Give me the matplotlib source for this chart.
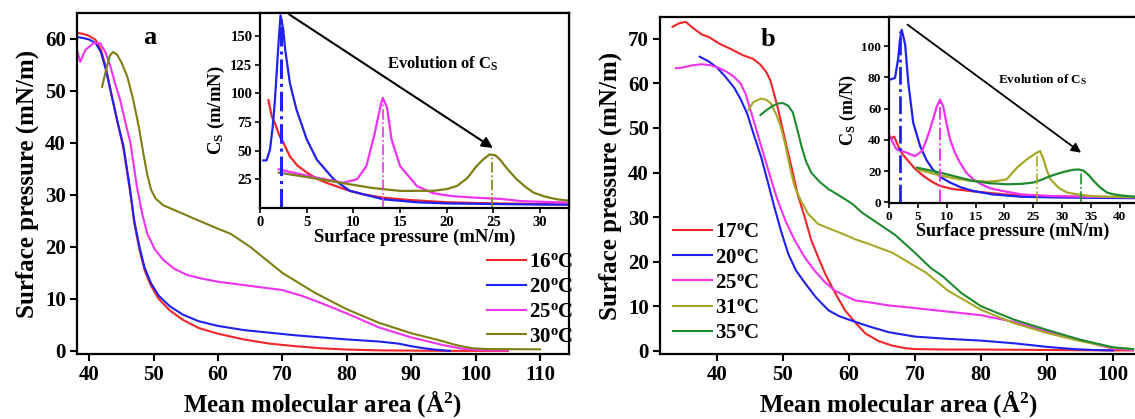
import matplotlib
matplotlib.use("Agg")
import matplotlib.pyplot as plt

plt.rcParams['font.family'] = ['Liberation Serif', 'DejaVu Serif']
plt.rcParams['font.weight'] = 'bold'
plt.rcParams['mathtext.fontset'] = 'custom'
plt.rcParams['mathtext.rm'] = 'Liberation Serif:bold'
plt.rcParams['mathtext.bf'] = 'Liberation Serif:bold'
plt.rcParams['mathtext.it'] = 'Liberation Serif:bold'
plt.rcParams['axes.linewidth'] = 1.6

# ---------------- Panel a: isotherms ----------------
a16_x = [38.0, 39.0, 40.0, 41.0, 41.8, 42.6, 43.5, 44.4, 45.3, 46.3, 47.0, 47.8, 48.6, 49.6, 50.8, 52.5, 54.5, 57.0, 60, 64, 68, 72, 76, 80, 85, 90, 95, 100, 105]
a16_y = [61.2, 61.0, 60.6, 59.8, 58.0, 54.5, 49.0, 44.0, 39.0, 31.0, 24.5, 19.5, 15.5, 12.5, 10.0, 7.8, 6.0, 4.4, 3.3, 2.2, 1.4, 0.9, 0.5, 0.25, 0.1, 0.05, 0, 0, 0]
a20_x = [38.0, 39.0, 40.0, 41.0, 41.8, 42.6, 43.5, 44.4, 45.3, 46.3, 47.0, 47.8, 48.6, 49.6, 50.8, 52.5, 54.5, 57.0, 60, 64, 68, 72, 76, 80, 85, 88, 90, 92, 94, 96]
a20_y = [60.4, 60.2, 59.9, 59.2, 57.5, 54.0, 49.0, 44.0, 39.5, 31.5, 25.0, 20.0, 16.0, 13.0, 10.6, 8.6, 7.0, 5.7, 4.8, 4.0, 3.5, 3.0, 2.6, 2.2, 1.8, 1.4, 0.9, 0.5, 0.2, 0.0]
a25_x = [38.1, 38.6, 39.4, 40.7, 41.7, 42.5, 43.3, 44.0, 44.8, 45.6, 46.4, 47.4, 48.2, 49.0, 50.2, 51.5, 53.2, 55.2, 57.5, 60, 65, 70, 73, 76, 80, 85, 90, 95, 98, 100, 103, 105]
a25_y = [57.9, 55.6, 57.9, 59.2, 59.2, 57.5, 54.7, 51.5, 48.3, 44.0, 40.0, 31.6, 26.5, 22.6, 19.5, 17.5, 15.8, 14.6, 13.9, 13.3, 12.5, 11.7, 10.6, 9.2, 7.2, 4.5, 2.6, 1.1, 0.4, 0.2, 0.1, 0.1]
a30_x = [42.0, 42.6, 43.2, 43.7, 44.3, 45.0, 45.9, 46.8, 47.7, 48.4, 49.0, 49.6, 50.3, 51.5, 53.4, 56.0, 60.0, 62.0, 65.0, 70.0, 75.0, 80.0, 85.0, 90.0, 94.5, 97.0, 99.5, 102.0, 110.0]
a30_y = [50.8, 54.0, 56.8, 57.5, 57.0, 55.5, 52.8, 48.5, 43.1, 38.0, 34.0, 31.0, 29.3, 28.0, 27.0, 25.6, 23.5, 22.5, 20.0, 15.0, 11.2, 8.0, 5.4, 3.4, 2.0, 1.1, 0.5, 0.35, 0.3]

# inset a: Cs vs surface pressure
ia16_x = [0.9, 1.25, 1.6, 2.1, 2.5, 3.2, 4.0, 5.0, 6.0, 7.1, 8.5, 9.6, 11.0, 13.2, 16.0, 20.0, 25.0, 30.0, 33.0]
ia16_y = [94, 80, 74, 62.6, 57, 45, 37, 31, 26, 22, 18, 15, 12, 9, 7, 5, 4, 3.5, 3]
ia20_x = [0.36, 0.7, 1.07, 1.35, 1.6, 1.8, 2.0, 2.2, 2.5, 2.7, 3.2, 3.9, 5.0, 6.1, 7.9, 9.6, 13.2, 16.8, 20, 25, 30, 33]
ia20_y = [41.5, 41.5, 51, 70, 94, 120, 146, 168, 155, 138, 109, 86, 60, 42, 25, 15, 7.6, 5, 4, 3.5, 3, 3]
ia25_x = [2.0, 4.0, 6.1, 8.9, 10.4, 11.4, 12.3, 12.9, 13.15, 13.6, 14.1, 15.0, 16.8, 18.5, 20.4, 23.0, 25.7, 28.0, 31.8, 33.0]
ia25_y = [33.7, 30, 26.4, 22, 25, 36.6, 65.5, 88.6, 96, 88, 59.7, 36.6, 19.2, 13, 10.5, 9, 8, 6, 5, 4.8]
ia30_x = [2.0, 5.0, 9.6, 12.0, 15.0, 18.6, 20.0, 21.1, 22.2, 23.2, 24.0, 24.6, 25.2, 25.7, 26.5, 27.5, 28.5, 29.3, 30.5, 31.8, 33.0]
ia30_y = [30.8, 27, 20.7, 17.5, 14.9, 15, 16.5, 19.2, 26, 36.6, 43, 46.7, 46, 42.3, 34, 25, 18, 13.4, 10, 7.6, 6.5]
ia_peak_x = [2.2, 13.15, 24.9]
ia_peak_y = [165, 95, 45]

labels_a = ['16', '20', '25', '30']

# ---------------- Panel b: isotherms ----------------
b17_x = [33.3, 34.3, 35.3, 36.5, 37.7, 38.8, 40.4, 42.0, 44.0, 45.5, 46.6, 47.5, 48.1, 48.7, 49.2, 50.0, 50.7, 51.5, 52.2, 53.3, 54.3, 55.4, 56.4, 57.9, 59.4, 61.0, 62.5, 64.5, 66.5, 68.5, 70, 75, 80, 90, 100, 103]
b17_y = [72.7, 73.5, 73.8, 72.3, 71.0, 70.4, 68.9, 67.8, 66.3, 65.5, 64.2, 62.5, 60.7, 57.5, 54.7, 49.5, 45.0, 40.0, 35.3, 30.0, 24.8, 20.8, 17.3, 13.0, 9.1, 6.3, 3.9, 2.2, 1.2, 0.6, 0.4, 0.3, 0.3, 0.2, 0.1, 0.1]
b20_x = [37.4, 38.7, 40.0, 41.3, 42.6, 43.6, 44.6, 45.6, 46.7, 47.7, 48.7, 49.7, 50.8, 52.0, 53.4, 55.0, 56.9, 58.5, 60, 63, 66, 70, 75, 80, 85, 90, 94, 97, 100]
b20_y = [66.0, 65.0, 63.6, 61.5, 59.1, 56.5, 53.2, 48.5, 43.5, 38.0, 32.3, 27.0, 21.8, 18.0, 15.1, 12.0, 9.1, 7.8, 7.0, 5.5, 4.2, 3.2, 2.7, 2.3, 1.7, 0.9, 0.4, 0.2, 0.1]
b25_x = [33.8, 35.0, 36.4, 37.7, 39.0, 40.3, 41.5, 42.6, 43.6, 44.4, 45.1, 46.1, 47.2, 48.2, 49.2, 50.5, 51.8, 53.3, 54.8, 56.3, 57.9, 59.5, 61.0, 63.5, 66, 70, 75, 80, 85, 90, 95, 98, 100, 103]
b25_y = [63.4, 63.6, 64.1, 64.3, 64.1, 63.5, 62.6, 61.5, 60.0, 57.5, 54.0, 49.0, 43.5, 38.5, 33.8, 28.8, 24.8, 21.0, 18.0, 15.5, 13.5, 12.3, 11.3, 10.8, 10.2, 9.6, 8.8, 8.0, 6.5, 4.3, 2.5, 1.2, 0.5, 0.2]
b31_x = [44.8, 45.5, 46.7, 47.5, 48.2, 49.0, 49.7, 50.4, 51.1, 51.8, 52.8, 53.8, 55.3, 56.9, 59.0, 61.0, 63.0, 66.6, 71.7, 75, 80, 85, 90, 95, 100, 103]
b31_y = [54.0, 55.8, 56.6, 56.3, 55.5, 53.0, 50.2, 46.0, 41.0, 36.7, 33.5, 30.8, 28.5, 27.5, 26.3, 25.0, 24.0, 22.0, 17.5, 13.5, 9.2, 6.2, 4.0, 2.2, 0.7, 0.4]
b35_x = [46.6, 47.5, 48.5, 49.3, 50.0, 50.8, 51.5, 52.3, 52.8, 53.5, 54.3, 55.5, 56.9, 58.9, 60.5, 62.0, 65.0, 67.0, 70.0, 72.3, 74.3, 77, 80, 85, 90, 95, 100, 103]
b35_y = [52.9, 54.0, 55.0, 55.5, 55.6, 55.0, 53.5, 49.0, 46.0, 42.5, 40.0, 38.0, 36.3, 34.5, 33.0, 31.0, 28.0, 26.0, 22.0, 18.7, 16.6, 13.0, 10.0, 7.0, 4.7, 2.5, 0.8, 0.4]

ib17_x = [0.5, 0.9, 1.6, 2.3, 3.1, 4.5, 6.0, 7.5, 8.9, 11.0, 14.6, 20.0, 26.0, 32.0, 38.0, 42.8]
ib17_y = [41.3, 42, 36, 31, 27.5, 21.5, 16.8, 13, 10.4, 8.5, 7, 5, 4, 3.5, 3.2, 3]
ib20_x = [0.17, 1.04, 1.6, 1.9, 2.2, 2.5, 2.8, 3.35, 4.2, 5.4, 6.5, 7.6, 9.0, 10.6, 12.5, 14.6, 18, 23, 30, 36, 42.8]
ib20_y = [78.6, 79.7, 92.4, 104, 110.5, 106, 101, 76.5, 51, 36, 27, 21, 16, 12.6, 9.5, 7.2, 5, 3.5, 3, 2.8, 2.6]
ib25_x = [0.17, 0.7, 1.3, 2.2, 3.1, 4.5, 5.7, 6.4, 7.1, 7.7, 8.3, 8.85, 9.4, 10.0, 10.6, 11.4, 12.3, 13.4, 14.6, 16.0, 17.5, 20, 23, 28, 34, 42.8]
ib25_y = [42.4, 38, 33.9, 32.8, 31.7, 29.6, 32.8, 39, 46.6, 54, 61.5, 65.8, 61.5, 50, 40.3, 32, 25.4, 19, 14.7, 11.5, 9, 7, 5, 4, 3.5, 3.2]
ib31_x = [5, 8, 11, 14, 17, 18.7, 20.4, 22.2, 23.9, 25.6, 26.2, 26.8, 27.4, 28.0, 29.5, 30.9, 33, 35, 38, 42.8]
ib31_y = [21, 18, 15.5, 13.8, 13.2, 13.6, 14.7, 22.2, 27.5, 31.7, 32.8, 27.5, 20, 14.7, 9, 6.2, 4.8, 4, 3.5, 3.2]
ib35_x = [4.8, 7, 8.85, 11, 14.6, 17.5, 20.4, 23, 25, 26.5, 28, 29.5, 30.9, 32, 32.9, 33.7, 34.6, 35.5, 36.6, 37.8, 39, 40.6, 42.8]
ib35_y = [22.2, 20.5, 19, 17, 13.6, 12.2, 11.5, 11.8, 12.6, 14.5, 16.8, 18.6, 20, 20.8, 21, 20.3, 17.5, 13.6, 9.5, 6.2, 5, 4.2, 3.5]
ib_peak_x = [1.9, 8.85, 25.6, 33.3]
ib_peak_y = [110, 65, 32, 21]

labels_b = ['17', '20', '25', '31', '35']

C_RED = '#f0262a'
C_BLUE = '#2020f0'
C_MAG = '#f032f0'
C_OLA = '#7e7e12'
C_OLB = '#a8a828'
C_GRN = '#1f8a2e'

W, H = 1135, 419
fig = plt.figure(figsize=(W / 100, H / 100), dpi=100)


def px_rect(l, t, r, b):
    return [l / W, 1 - b / H, (r - l) / W, (b - t) / H]


def style(ax, size, length, width, pad):
    ax.tick_params(direction='out', length=length, width=width, labelsize=size, pad=pad,
                   top=False, right=False)
    for lab in ax.get_xticklabels() + ax.get_yticklabels():
        lab.set_fontweight('bold')


def deg(t):
    return t + r'$^{\rm o}$C'


# ---- main a
axa = fig.add_axes(px_rect(77, 13, 569, 354))
axa.plot(a16_x, a16_y, color=C_RED, lw=1.5, label=deg(labels_a[0]))
axa.plot(a20_x, a20_y, color=C_BLUE, lw=1.5, label=deg(labels_a[1]))
axa.plot(a25_x, a25_y, color=C_MAG, lw=1.5, label=deg(labels_a[2]))
axa.plot(a30_x, a30_y, color=C_OLA, lw=1.5, label=deg(labels_a[3]))
axa.set_xlim(38.1, 114.5)
axa.set_ylim(-0.6, 65)
axa.set_xticks([40, 50, 60, 70, 80, 90, 100, 110])
axa.set_yticks([0, 10, 20, 30, 40, 50, 60])
style(axa, 15, 5, 1.5, 3)
axa.set_xlabel('Mean molecular area (Å$^{2}$)', fontsize=18, fontweight='bold', labelpad=2)
axa.set_ylabel('Surface pressure (mN/m)', fontsize=18, fontweight='bold', labelpad=4)
axa.legend(loc='upper left', bbox_to_anchor=((479 - 77) / 492, 1 - (244 - 13) / 341), frameon=False,
           fontsize=15, handlelength=1.85, handletextpad=0.15, labelspacing=0.23, borderaxespad=0)
fig.text(150 / W, 1 - 38 / H, 'a', fontsize=19, fontweight='bold', ha='center', va='center')

# ---- inset a
ia = fig.add_axes(px_rect(260, 13, 569, 208))
ia.plot(ia16_x, ia16_y, color=C_RED, lw=1.6)
ia.plot(ia20_x, ia20_y, color=C_BLUE, lw=1.6)
ia.plot(ia25_x, ia25_y, color=C_MAG, lw=1.6)
ia.plot(ia30_x, ia30_y, color=C_OLA, lw=1.6)
ia.vlines(ia_peak_x, 0, ia_peak_y, colors=[C_BLUE, C_MAG, C_OLA], linestyles='dashdot',
          linewidths=[2.2, 1.2, 1.2])
ia.set_xlim(0, 33.1)
ia.set_ylim(0, 170)
ia.set_xticks([0, 5, 10, 15, 20, 25, 30])
ia.set_yticks([25, 50, 75, 100, 125, 150])
style(ia, 10.5, 3.5, 1.2, 2)
ia.set_xlabel('Surface pressure (mN/m)', fontsize=13.5, fontweight='bold', labelpad=0)
ia.set_ylabel('C$_{S}$ (m/mN)', fontsize=13.5, fontweight='bold', labelpad=2)
ia.annotate('', xy=(25.2, 51), xytext=(2.9, 170), xycoords='data',
            arrowprops=dict(arrowstyle='-|>', color='black', lw=1.5, mutation_scale=16), annotation_clip=False)
fig.text(443 / W, 1 - 64 / H, 'Evolution of C$_{S}$', fontsize=12, fontweight='bold', ha='center', va='center')

# ---- main b
axb = fig.add_axes(px_rect(660, 17, 1137, 354))
axb.plot(b17_x, b17_y, color=C_RED, lw=1.5, label=deg(labels_b[0]))
axb.plot(b20_x, b20_y, color=C_BLUE, lw=1.5, label=deg(labels_b[1]))
axb.plot(b25_x, b25_y, color=C_MAG, lw=1.5, label=deg(labels_b[2]))
axb.plot(b31_x, b31_y, color=C_OLB, lw=1.5, label=deg(labels_b[3]))
axb.plot(b35_x, b35_y, color=C_GRN, lw=1.5, label=deg(labels_b[4]))
axb.set_xlim(31.4, 103.6)
axb.set_ylim(-0.7, 74.9)
axb.set_xticks([40, 50, 60, 70, 80, 90, 100])
axb.set_yticks([0, 10, 20, 30, 40, 50, 60, 70])
style(axb, 15, 5, 1.5, 3)
axb.set_xlabel('Mean molecular area (Å$^{2}$)', fontsize=18, fontweight='bold', labelpad=2)
axb.set_ylabel('Surface pressure (mN/m)', fontsize=18, fontweight='bold', labelpad=4)
axb.legend(loc='upper left', bbox_to_anchor=((665 - 660) / 477, 1 - (214 - 17) / 337), frameon=False,
           fontsize=15, handlelength=1.85, handletextpad=0.15, labelspacing=0.25, borderaxespad=0)
fig.text(768 / W, 1 - 40 / H, 'b', fontsize=19, fontweight='bold', ha='center', va='center')

# ---- inset b
ib = fig.add_axes(px_rect(889, 17, 1137, 203))
ib.plot(ib17_x, ib17_y, color=C_RED, lw=1.6)
ib.plot(ib20_x, ib20_y, color=C_BLUE, lw=1.6)
ib.plot(ib25_x, ib25_y, color=C_MAG, lw=1.6)
ib.plot(ib31_x, ib31_y, color=C_OLB, lw=1.6)
ib.plot(ib35_x, ib35_y, color=C_GRN, lw=1.6)
ib.vlines(ib_peak_x, 0, ib_peak_y, colors=[C_BLUE, C_MAG, C_OLB, C_GRN], linestyles='dashdot',
          linewidths=[2.0, 1.4, 1.2, 1.2])
ib.set_xlim(0, 43.0)
ib.set_ylim(-0.5, 118.8)
ib.set_xticks([0, 5, 10, 15, 20, 25, 30, 35, 40])
ib.set_yticks([0, 20, 40, 60, 80, 100])
style(ib, 9.5, 3.5, 1.2, 2)
ib.set_xlabel('Surface pressure (mN/m)', fontsize=13, fontweight='bold', labelpad=0)
ib.set_ylabel('C$_{S}$ (m/N)', fontsize=13, fontweight='bold', labelpad=2)
ib.annotate('', xy=(33.7, 30.7), xytext=(2.8, 115), xycoords='data',
            arrowprops=dict(arrowstyle='-|>', color='black', lw=1.3, mutation_scale=14), annotation_clip=False)
fig.text(1043 / W, 1 - 80 / H, 'Evolution of C$_{S}$', fontsize=9.5, fontweight='bold', ha='center', va='center')

fig.savefig('out.png', dpi=100)
